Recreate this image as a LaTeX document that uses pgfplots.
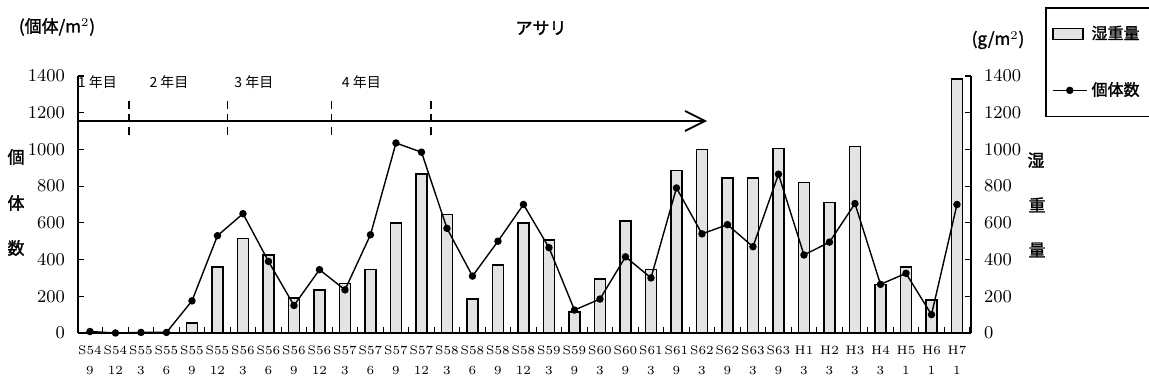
\documentclass[border=0pt]{standalone}
\usepackage{pgfplots}
\pgfplotsset{compat=1.18}
\usepackage{pgfplotstable}
\usepackage{fontspec}
\usetikzlibrary{arrows.meta}
\newfontfamily\cjk{Noto Sans CJK JP}
\newfontfamily\cjkb[FakeBold=1.6]{Noto Sans CJK JP}

\pgfplotstableread{
x y
0 8
1 0
2 3
3 3
4 175
5 530
6 650
7 390
8 150
9 345
10 235
11 535
12 1035
13 985
14 570
15 310
16 500
17 700
18 465
19 125
20 185
21 415
22 300
23 790
24 540
25 590
26 470
27 865
28 425
29 495
30 705
31 265
32 325
33 100
34 700
}\kotai

\pgfplotstableread{
x y
4 55
5 360
6 515
7 425
8 190
9 235
10 270
11 345
12 600
13 865
14 645
15 185
16 370
17 600
18 505
19 115
20 295
21 610
22 345
23 885
24 1000
25 845
26 845
27 1005
28 820
29 710
30 1015
31 265
32 360
33 180
34 1385
}\shitsu

\pgfplotsset{
  base/.style={
    scale only axis, width=446.5pt, height=128.5pt,
    at={(0pt,0pt)}, anchor=south west,
    xmin=-0.47, xmax=34.55, ymin=0, ymax=1400,
    ytick={0,200,...,1400},
    /pgf/number format/1000 sep={},
    tick align=inside, major tick length=3pt, minor tick length=3pt,
    tick style={black, line width=0.6pt},
    axis line style={line width=0.8pt},
    yticklabel style={font=\fontsize{9}{10}\selectfont},
    clip=false,
  },
  barlegend/.style={legend image code/.code={%
    \draw[draw=black, fill=gray!22, line width=0.8pt] (0pt,-2.8pt) rectangle (15pt,2.8pt);}},
}

\begin{document}
\begin{tikzpicture}
% bars: wet weight, right axis
\begin{axis}[base,
  axis y line*=right, axis x line=none,
  yticklabel style={xshift=3pt},
  ybar, bar width=5.6pt,
]
\addplot[draw=black, fill=gray!22, line width=0.8pt] table[x=x,y=y]{\shitsu};
\end{axis}
% line: individuals, left axis
\begin{axis}[base,
  axis y line*=left, axis x line*=bottom,
  yticklabel style={xshift=-3pt},
  xtick={0,...,34},
  major x tick style={draw=none},
  minor xtick={-0.5,0.5,...,34.5},
  xticklabels={{S54\\9},{S54\\12},{S55\\3},{S55\\6},{S55\\9},{S55\\12},{S56\\3},{S56\\6},{S56\\9},{S56\\12},{S57\\3},{S57\\6},{S57\\9},{S57\\12},{S58\\3},{S58\\6},{S58\\9},{S58\\12},{S59\\3},{S59\\9},{S60\\3},{S60\\9},{S61\\3},{S61\\9},{S62\\3},{S62\\9},{S63\\3},{S63\\9},{H1\\3},{H2\\3},{H3\\3},{H4\\3},{H5\\1},{H6\\1},{H7\\1}},
  xticklabel style={align=center, font=\fontsize{6.2}{10}\selectfont, yshift=-3pt},
  legend style={at={(rel axis cs:1.083,1.2685)}, anchor=north west,
    draw=black, line width=0.8pt, inner xsep=3pt, inner ysep=7pt,
    row sep=16pt, font=\cjkb\fontsize{8}{9}\selectfont},
  legend cell align=left,
]
\addlegendimage{barlegend}
\addlegendentry{湿重量}
\addplot[black, line width=0.7pt, mark=*, mark size=1.5pt] table[x=x,y=y]{\kotai};
\addlegendentry{個体数}
% period annotations
\draw[line width=1pt, -{Straight Barb[length=10pt,width=10pt,line width=0.9pt]}]
  (axis cs:-0.47,1155) -- (axis cs:24.2,1155);
\draw[line width=0.9pt, dash pattern=on 4pt off 2.5pt] (axis cs:1.54,1264) -- (axis cs:1.54,1079);
\draw[line width=0.9pt, dash pattern=on 4pt off 2.5pt] (axis cs:5.39,1264) -- (axis cs:5.39,1079);
\draw[line width=0.9pt, dash pattern=on 4pt off 2.5pt] (axis cs:9.47,1264) -- (axis cs:9.47,1079);
\draw[line width=0.9pt, dash pattern=on 4pt off 2.5pt] (axis cs:13.38,1264) -- (axis cs:13.38,1079);
\node[font=\cjk\fontsize{7}{8}\selectfont] at (axis cs:0.29,1367) {1 年目};
\node[font=\cjk\fontsize{7}{8}\selectfont] at (axis cs:3.1,1367) {2 年目};
\node[font=\cjk\fontsize{7}{8}\selectfont] at (axis cs:6.43,1367) {3 年目};
\node[font=\cjk\fontsize{7}{8}\selectfont] at (axis cs:10.64,1367) {4 年目};
\end{axis}
% titles and axis labels
\node[font=\cjkb\fontsize{8.5}{9}\selectfont] at (-10.5pt,153pt) {(個体/m$^2$)};
\node[font=\cjkb\fontsize{8.5}{9}\selectfont] at (231.5pt,152.5pt) {アサリ};
\node[font=\cjkb\fontsize{8.5}{9}\selectfont] at (460pt,146.5pt) {(g/m$^2$)};
\node[font=\cjkb\fontsize{8.5}{9}\selectfont] at (-31pt,88pt) {個};
\node[font=\cjkb\fontsize{8.5}{9}\selectfont] at (-31pt,65pt) {体};
\node[font=\cjkb\fontsize{8.5}{9}\selectfont] at (-31pt,42.5pt) {数};
\node[font=\cjkb\fontsize{8.5}{9}\selectfont] at (479pt,86.5pt) {湿};
\node[font=\cjkb\fontsize{8.5}{9}\selectfont] at (479.5pt,64pt) {重};
\node[font=\cjkb\fontsize{8.5}{9}\selectfont] at (479.5pt,41.5pt) {量};
\pgfresetboundingbox
\useasboundingbox (-39pt,-25pt) rectangle (535.5pt,166.5pt);
\end{tikzpicture}
\end{document}
